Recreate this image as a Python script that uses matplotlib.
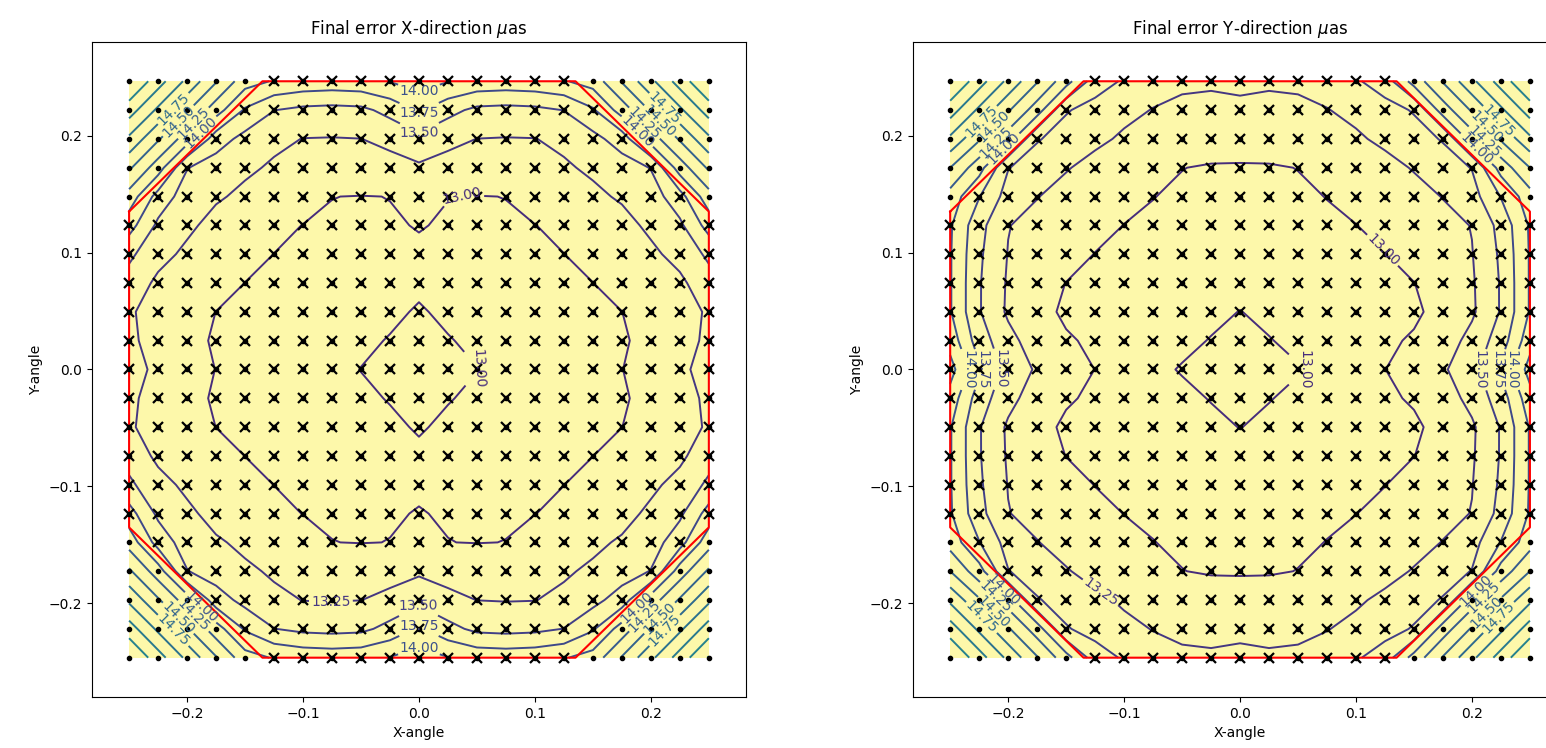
import numpy as np
import matplotlib
matplotlib.use('Agg')
import matplotlib.pyplot as plt
from matplotlib.path import Path
from matplotlib.colors import Normalize

# 采样网格 (21 x 21)
grid_x = np.linspace(-0.25, 0.25, 21)
grid_y = np.linspace(-0.2464, 0.2464, 21)

# 视场边界 (八边形)
fov_x = [-0.25, -0.135, 0.135, 0.25, 0.25, 0.135, -0.135, -0.25, -0.25]
fov_y = [0.135, 0.2464, 0.2464, 0.135, -0.135, -0.2464, -0.2464, -0.135, 0.135]

# X 方向最终误差 (行: y 从上到下, 列: x 从左到右)
err_x = [
    [15.77, 15.36, 14.94, 14.52, 14.10, 13.98, 13.92, 13.90, 13.92, 14.01, 14.12, 14.01, 13.92, 13.90, 13.92, 13.98, 14.10, 14.52, 14.94, 15.36, 15.77],
    [15.37, 14.95, 14.53, 14.11, 13.72, 13.505, 13.44, 13.42, 13.44, 13.58, 13.78, 13.58, 13.44, 13.42, 13.44, 13.505, 13.72, 14.11, 14.53, 14.95, 15.37],
    [14.95, 14.53, 14.12, 13.62, 13.42, 13.30, 13.245, 13.24, 13.248, 13.30, 13.43, 13.30, 13.248, 13.24, 13.245, 13.30, 13.42, 13.62, 14.12, 14.53, 14.95],
    [14.54, 14.12, 13.51, 13.38, 13.29, 13.22, 13.18, 13.17, 13.17, 13.18, 13.21, 13.18, 13.17, 13.17, 13.18, 13.22, 13.29, 13.38, 13.51, 14.12, 14.54],
    [14.15, 13.65, 13.38, 13.28, 13.20, 13.12, 13.05, 13.002, 12.995, 13.002, 13.07, 13.002, 12.995, 13.002, 13.05, 13.12, 13.20, 13.28, 13.38, 13.65, 14.15],
    [13.85, 13.45, 13.30, 13.17, 13.08, 13.03, 12.998, 12.985, 12.985, 12.99, 13.005, 12.99, 12.985, 12.985, 12.998, 13.03, 13.08, 13.17, 13.30, 13.45, 13.85],
    [13.55, 13.33, 13.20, 13.10, 13.04, 12.999, 12.985, 12.975, 12.975, 12.98, 12.985, 12.98, 12.975, 12.975, 12.985, 12.999, 13.04, 13.10, 13.20, 13.33, 13.55],
    [13.40, 13.20, 13.12, 13.05, 12.999, 12.985, 12.975, 12.972, 12.978, 12.985, 12.99, 12.985, 12.978, 12.972, 12.975, 12.985, 12.999, 13.05, 13.12, 13.20, 13.40],
    [13.28, 13.15, 13.06, 12.999, 12.975, 12.968, 12.97, 12.975, 12.98, 12.99, 13.005, 12.99, 12.98, 12.975, 12.97, 12.968, 12.975, 12.999, 13.06, 13.15, 13.28],
    [13.30, 13.15, 13.04, 12.985, 12.972, 12.968, 12.972, 12.98, 12.99, 13.003, 13.02, 13.003, 12.99, 12.98, 12.972, 12.968, 12.972, 12.985, 13.04, 13.15, 13.30],
    [13.32, 13.21, 13.07, 12.997, 12.975, 12.97, 12.975, 12.985, 13.001, 13.015, 13.03, 13.015, 13.001, 12.985, 12.975, 12.97, 12.975, 12.997, 13.07, 13.21, 13.32],
    [13.30, 13.15, 13.04, 12.985, 12.972, 12.968, 12.972, 12.98, 12.99, 13.003, 13.02, 13.003, 12.99, 12.98, 12.972, 12.968, 12.972, 12.985, 13.04, 13.15, 13.30],
    [13.28, 13.15, 13.06, 12.999, 12.975, 12.968, 12.97, 12.975, 12.98, 12.99, 13.005, 12.99, 12.98, 12.975, 12.97, 12.968, 12.975, 12.999, 13.06, 13.15, 13.28],
    [13.40, 13.20, 13.12, 13.05, 12.999, 12.985, 12.975, 12.972, 12.978, 12.985, 12.99, 12.985, 12.978, 12.972, 12.975, 12.985, 12.999, 13.05, 13.12, 13.20, 13.40],
    [13.55, 13.33, 13.20, 13.10, 13.04, 12.999, 12.985, 12.975, 12.975, 12.98, 12.985, 12.98, 12.975, 12.975, 12.985, 12.999, 13.04, 13.10, 13.20, 13.33, 13.55],
    [13.85, 13.45, 13.30, 13.17, 13.08, 13.03, 12.998, 12.985, 12.985, 12.99, 13.005, 12.99, 12.985, 12.985, 12.998, 13.03, 13.08, 13.17, 13.30, 13.45, 13.85],
    [14.15, 13.65, 13.38, 13.28, 13.20, 13.12, 13.05, 13.002, 12.995, 13.002, 13.07, 13.002, 12.995, 13.002, 13.05, 13.12, 13.20, 13.28, 13.38, 13.65, 14.15],
    [14.54, 14.12, 13.51, 13.38, 13.29, 13.22, 13.18, 13.17, 13.17, 13.18, 13.21, 13.18, 13.17, 13.17, 13.18, 13.22, 13.29, 13.38, 13.51, 14.12, 14.54],
    [14.95, 14.53, 14.12, 13.62, 13.42, 13.30, 13.245, 13.24, 13.248, 13.30, 13.43, 13.30, 13.248, 13.24, 13.245, 13.30, 13.42, 13.62, 14.12, 14.53, 14.95],
    [15.37, 14.95, 14.53, 14.11, 13.72, 13.505, 13.44, 13.42, 13.44, 13.58, 13.78, 13.58, 13.44, 13.42, 13.44, 13.505, 13.72, 14.11, 14.53, 14.95, 15.37],
    [15.77, 15.36, 14.94, 14.52, 14.10, 13.98, 13.92, 13.90, 13.92, 14.01, 14.12, 14.01, 13.92, 13.90, 13.92, 13.98, 14.10, 14.52, 14.94, 15.36, 15.77],
]

# Y 方向最终误差
err_y = [
    [15.77, 15.36, 14.94, 14.52, 14.10, 13.62, 13.47, 13.36, 13.30, 13.29, 13.32, 13.29, 13.30, 13.36, 13.47, 13.62, 14.10, 14.52, 14.94, 15.36, 15.77],
    [15.37, 14.95, 14.53, 14.12, 13.52, 13.41, 13.32, 13.24, 13.19, 13.17, 13.18, 13.17, 13.19, 13.24, 13.32, 13.41, 13.52, 14.12, 14.53, 14.95, 15.37],
    [14.95, 14.53, 14.12, 13.52, 13.40, 13.31, 13.21, 13.13, 13.08, 13.06, 13.05, 13.06, 13.08, 13.13, 13.21, 13.31, 13.40, 13.52, 14.12, 14.53, 14.95],
    [14.50, 14.10, 13.51, 13.38, 13.27, 13.16, 13.08, 13.03, 13.002, 12.99, 12.99, 12.99, 13.002, 13.03, 13.08, 13.16, 13.27, 13.38, 13.51, 14.10, 14.50],
    [14.15, 13.76, 13.40, 13.26, 13.15, 13.09, 13.04, 13.002, 12.985, 12.98, 12.98, 12.98, 12.985, 13.002, 13.04, 13.09, 13.15, 13.26, 13.40, 13.76, 14.15],
    [14.03, 13.58, 13.26, 13.16, 13.09, 13.04, 12.998, 12.985, 12.975, 12.97, 12.97, 12.97, 12.975, 12.985, 12.998, 13.04, 13.09, 13.16, 13.26, 13.58, 14.03],
    [14.02, 13.54, 13.24, 13.13, 13.05, 12.997, 12.975, 12.97, 12.97, 12.972, 12.975, 12.972, 12.97, 12.97, 12.975, 12.997, 13.05, 13.13, 13.24, 13.54, 14.02],
    [14.02, 13.52, 13.22, 13.06, 12.998, 12.98, 12.97, 12.97, 12.975, 12.98, 12.985, 12.98, 12.975, 12.97, 12.97, 12.98, 12.998, 13.06, 13.22, 13.52, 14.02],
    [14.02, 13.52, 13.21, 13.03, 12.985, 12.975, 12.97, 12.973, 12.98, 12.99, 13.001, 12.99, 12.98, 12.973, 12.97, 12.975, 12.985, 13.03, 13.21, 13.52, 14.02],
    [14.15, 13.62, 13.33, 13.12, 13.01, 12.985, 12.975, 12.98, 12.99, 13.002, 13.01, 13.002, 12.99, 12.98, 12.975, 12.985, 13.01, 13.12, 13.33, 13.62, 14.15],
    [14.35, 13.80, 13.40, 13.22, 13.08, 12.998, 12.985, 12.99, 13.003, 13.012, 13.02, 13.012, 13.003, 12.99, 12.985, 12.998, 13.08, 13.22, 13.40, 13.80, 14.35],
    [14.15, 13.62, 13.33, 13.12, 13.01, 12.985, 12.975, 12.98, 12.99, 13.002, 13.01, 13.002, 12.99, 12.98, 12.975, 12.985, 13.01, 13.12, 13.33, 13.62, 14.15],
    [14.02, 13.52, 13.21, 13.03, 12.985, 12.975, 12.97, 12.973, 12.98, 12.99, 13.001, 12.99, 12.98, 12.973, 12.97, 12.975, 12.985, 13.03, 13.21, 13.52, 14.02],
    [14.02, 13.52, 13.22, 13.06, 12.998, 12.98, 12.97, 12.97, 12.975, 12.98, 12.985, 12.98, 12.975, 12.97, 12.97, 12.98, 12.998, 13.06, 13.22, 13.52, 14.02],
    [14.02, 13.54, 13.24, 13.13, 13.05, 12.997, 12.975, 12.97, 12.97, 12.972, 12.975, 12.972, 12.97, 12.97, 12.975, 12.997, 13.05, 13.13, 13.24, 13.54, 14.02],
    [14.03, 13.58, 13.26, 13.16, 13.09, 13.04, 12.998, 12.985, 12.975, 12.97, 12.97, 12.97, 12.975, 12.985, 12.998, 13.04, 13.09, 13.16, 13.26, 13.58, 14.03],
    [14.15, 13.76, 13.40, 13.26, 13.15, 13.09, 13.04, 13.002, 12.985, 12.98, 12.98, 12.98, 12.985, 13.002, 13.04, 13.09, 13.15, 13.26, 13.40, 13.76, 14.15],
    [14.50, 14.10, 13.51, 13.38, 13.27, 13.16, 13.08, 13.03, 13.002, 12.99, 12.99, 12.99, 13.002, 13.03, 13.08, 13.16, 13.27, 13.38, 13.51, 14.10, 14.50],
    [14.95, 14.53, 14.12, 13.52, 13.40, 13.31, 13.21, 13.13, 13.08, 13.06, 13.05, 13.06, 13.08, 13.13, 13.21, 13.31, 13.40, 13.52, 14.12, 14.53, 14.95],
    [15.37, 14.95, 14.53, 14.12, 13.52, 13.41, 13.32, 13.24, 13.19, 13.17, 13.18, 13.17, 13.19, 13.24, 13.32, 13.41, 13.52, 14.12, 14.53, 14.95, 15.37],
    [15.77, 15.36, 14.94, 14.52, 14.10, 13.62, 13.47, 13.36, 13.30, 13.29, 13.32, 13.29, 13.30, 13.36, 13.47, 13.62, 14.10, 14.52, 14.94, 15.36, 15.77],
]

levels = np.arange(13.0, 16.01, 0.25)
titles = ['Final error X-direction $\\mu$as', 'Final error Y-direction $\\mu$as']

# 等值线标签位置
labels_x = [(0.0, 0.233), (0.0, 0.22), (0.0, 0.203), (0.0, -0.203), (0.0, -0.218), (0.0, -0.231),
            (0.037, 0.156), (0.05, 0.0), (-0.076, -0.2),
            (-0.19, 0.205), (-0.197, 0.213), (-0.21, 0.215), (-0.215, 0.226),
            (0.19, 0.205), (0.197, 0.213), (0.21, 0.215), (0.215, 0.226),
            (-0.19, -0.205), (-0.197, -0.213), (-0.21, -0.215), (-0.215, -0.226),
            (0.19, -0.205), (0.197, -0.213), (0.21, -0.215), (0.215, -0.226)]
labels_y = [(-0.234, 0.0), (-0.222, 0.0), (-0.207, 0.0), (0.207, 0.0), (0.222, 0.0), (0.234, 0.0),
            (0.124, 0.103), (0.058, 0.0), (-0.12, -0.19),
            (-0.205, 0.19), (-0.213, 0.197), (-0.215, 0.21), (-0.226, 0.215),
            (0.205, 0.19), (0.213, 0.197), (0.215, 0.21), (0.226, 0.215),
            (-0.205, -0.19), (-0.213, -0.197), (-0.215, -0.21), (-0.226, -0.215),
            (0.205, -0.19), (0.213, -0.197), (0.215, -0.21), (0.226, -0.215)]

fig = plt.figure(figsize=(15.46, 7.48), dpi=100)
ax1 = fig.add_axes([0.0595, 0.0682, 0.423, 0.8757])
ax2 = fig.add_axes([0.5906, 0.0682, 0.423, 0.8757])

X, Y = np.meshgrid(grid_x, grid_y[::-1])
PX, PY = np.meshgrid(grid_x, grid_y)
fov = Path(np.column_stack([fov_x, fov_y]) * 1.01)
inside = fov.contains_points(np.column_stack([PX.ravel(), PY.ravel()]))

for ax, data, title, lab in zip([ax1, ax2], [err_x, err_y], titles, [labels_x, labels_y]):
    Z = np.array(data)
    ax.contourf(X, Y, Z, levels=[Z.min() - 1, Z.max() + 1], colors=['#fdf8aa'])
    cs = ax.contour(X, Y, Z, levels=levels, cmap='viridis',
                    norm=Normalize(12.0, 20.0), linewidths=1.4)
    ax.clabel(cs, fmt='%.2f', fontsize=10, inline=True, manual=lab)
    ax.plot(fov_x, fov_y, color='red', lw=1.5)
    ax.plot(PX.ravel(), PY.ravel(), 'k.', ms=6)
    ax.plot(PX.ravel()[inside], PY.ravel()[inside], 'kx', ms=7, mew=1.6)
    ax.set_xlim(-0.282, 0.282)
    ax.set_ylim(-0.28, 0.28)
    ax.set_xticks([-0.2, -0.1, 0.0, 0.1, 0.2])
    ax.set_yticks([-0.2, -0.1, 0.0, 0.1, 0.2])
    ax.set_title(title, fontsize=12)
    ax.set_xlabel('X-angle')
    ax.set_ylabel('Y-angle')

plt.savefig('out.png', dpi=100)
